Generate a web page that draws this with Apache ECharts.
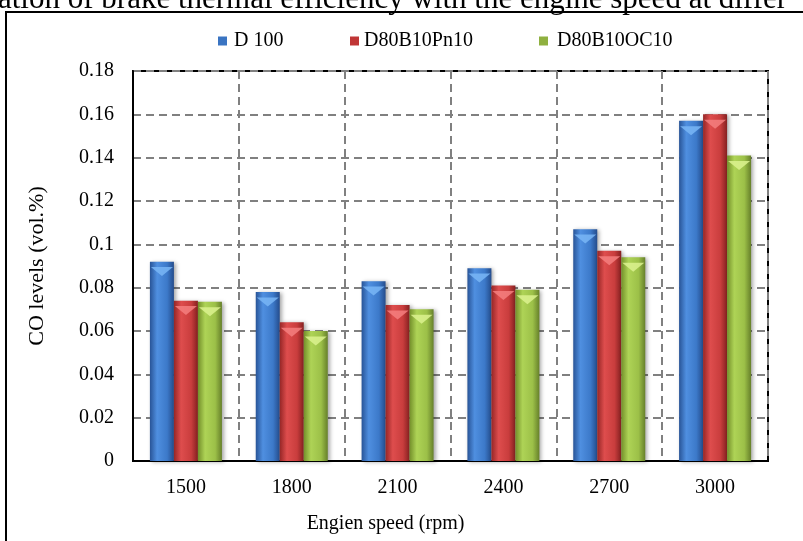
<!DOCTYPE html>
<html>
<head>
<meta charset="utf-8">
<script src="https://cdn.jsdelivr.net/npm/echarts@6/dist/echarts.min.js"></script>
<style>
  html, body { margin: 0; padding: 0; background: #fff; }
  #chart { width: 803px; height: 541px; }
</style>
</head>
<body>
<div id="chart"></div>
<script>
// Engine speed categories (rpm)
const speeds = ['1500', '1800', '2100', '2400', '2700', '3000'];

// CO levels (vol.%) for each fuel blend
const seriesNames = ['D 100', 'D80B10Pn10', 'D80B10OC10'];
const coD100       = [0.092, 0.078, 0.083, 0.089, 0.107, 0.157];
const coD80B10Pn10 = [0.074, 0.064, 0.072, 0.081, 0.097, 0.160];
const coD80B10OC10 = [0.0735, 0.060, 0.070, 0.079, 0.094, 0.141];

// Y axis range
const yMin = 0, yMax = 0.18, yStep = 0.02;

const FONT = '"Liberation Serif", "Times New Roman", serif';

// Bevelled column look: side gradient for the body, lighter cap on top
const palettes = [
  { body: ['#285497', '#4f8fe0', '#3c79c9', '#244c8c'], cap: '#79b6f6', icon: '#3a74c2' },
  { body: ['#962626', '#de4d4d', '#c93d3d', '#852020'], cap: '#f57f7f', icon: '#c03636' },
  { body: ['#738f2a', '#aed356', '#9cc048', '#66802a'], cap: '#dcf28f', icon: '#8fb040' }
];

function sideGradient(c) {
  return new echarts.graphic.LinearGradient(0, 0, 1, 0, [
    { offset: 0, color: c[0] },
    { offset: 0.3, color: c[1] },
    { offset: 0.72, color: c[2] },
    { offset: 1, color: c[3] }
  ]);
}

const values = [coD100, coD80B10Pn10, coD80B10OC10];
const BAR_W = 24;

const series = [];
values.forEach((vals, i) => {
  series.push({
    name: seriesNames[i],
    type: 'bar',
    data: vals,
    barWidth: BAR_W,
    barGap: '0%',
    itemStyle: {
      color: sideGradient(palettes[i].body),
      shadowColor: 'rgba(0,0,0,0.35)',
      shadowBlur: 4,
      shadowOffsetX: 2,
      shadowOffsetY: 1
    },
    z: 2
  });
});
values.forEach((vals, i) => {
  series.push({
    name: seriesNames[i] + ' cap',
    type: 'pictorialBar',
    data: vals,
    barWidth: BAR_W,
    barGap: '0%',
    symbol: 'triangle',
    symbolRotate: 180,
    symbolSize: [BAR_W - 2, 9],
    symbolPosition: 'end',
    symbolOffset: [0, '60%'],
    itemStyle: { color: palettes[i].cap, opacity: 0.85 },
    silent: true,
    z: 3
  });
});

function legendAt(i, left, padLeft) {
  return {
    left: left,
    top: 26,
    icon: 'rect',
    itemWidth: 9,
    itemHeight: 9,
    selectedMode: false,
    data: [{ name: seriesNames[i], itemStyle: { color: palettes[i].icon } }],
    textStyle: { fontFamily: FONT, fontSize: 20, color: '#000', padding: [0, 0, 0, padLeft] }
  };
}

const chart = echarts.init(document.getElementById('chart'), null, { renderer: 'canvas' });
chart.setOption({
  backgroundColor: '#fff',
  animation: false,
  graphic: [
    {
      type: 'rect',
      shape: { x: 6, y: 12, width: 820, height: 560 },
      style: { fill: 'none', stroke: '#000', lineWidth: 2 },
      silent: true
    },
    {
      type: 'text',
      left: -2,
      top: -16,
      style: {
        text: 'ation of brake thermal efficiency with the engine speed at differ',
        fontFamily: FONT,
        fontSize: 31,
        fill: '#000'
      },
      silent: true
    }
  ],
  legend: [legendAt(0, 213, 2), legendAt(1, 345, 0), legendAt(2, 534, 4)],
  grid: {
    left: 133, right: 35, top: 71, bottom: 80,
    show: true, borderColor: '#000', borderWidth: 2, backgroundColor: 'transparent'
  },
  xAxis: {
    type: 'category',
    data: speeds,
    name: 'Engien speed (rpm)',
    nameLocation: 'middle',
    nameGap: 53,
    nameTextStyle: { fontFamily: FONT, fontSize: 20, color: '#000', padding: [0, 130, 0, 0] },
    axisLine: { lineStyle: { color: '#000', width: 2 } },
    axisTick: { show: false },
    axisLabel: { fontFamily: FONT, fontSize: 20, color: '#000', margin: 17, interval: 0 },
    splitLine: { show: true, interval: 0, lineStyle: { color: '#808080', width: 2, type: [8, 5] } }
  },
  yAxis: {
    type: 'value',
    min: yMin, max: yMax, interval: yStep,
    name: 'CO levels (vol.%)',
    nameLocation: 'middle',
    nameGap: 85,
    nameTextStyle: { fontFamily: FONT, fontSize: 22, color: '#000' },
    axisLine: { show: true, lineStyle: { color: '#000', width: 2 } },
    axisTick: { show: false },
    axisLabel: {
      fontFamily: FONT, fontSize: 20, color: '#000', margin: 19,
      formatter: v => String(Math.round(v * 100) / 100)
    },
    splitLine: { lineStyle: { color: '#808080', width: 2, type: [8, 5] } }
  },
  series: series
});
</script>
</body>
</html>
